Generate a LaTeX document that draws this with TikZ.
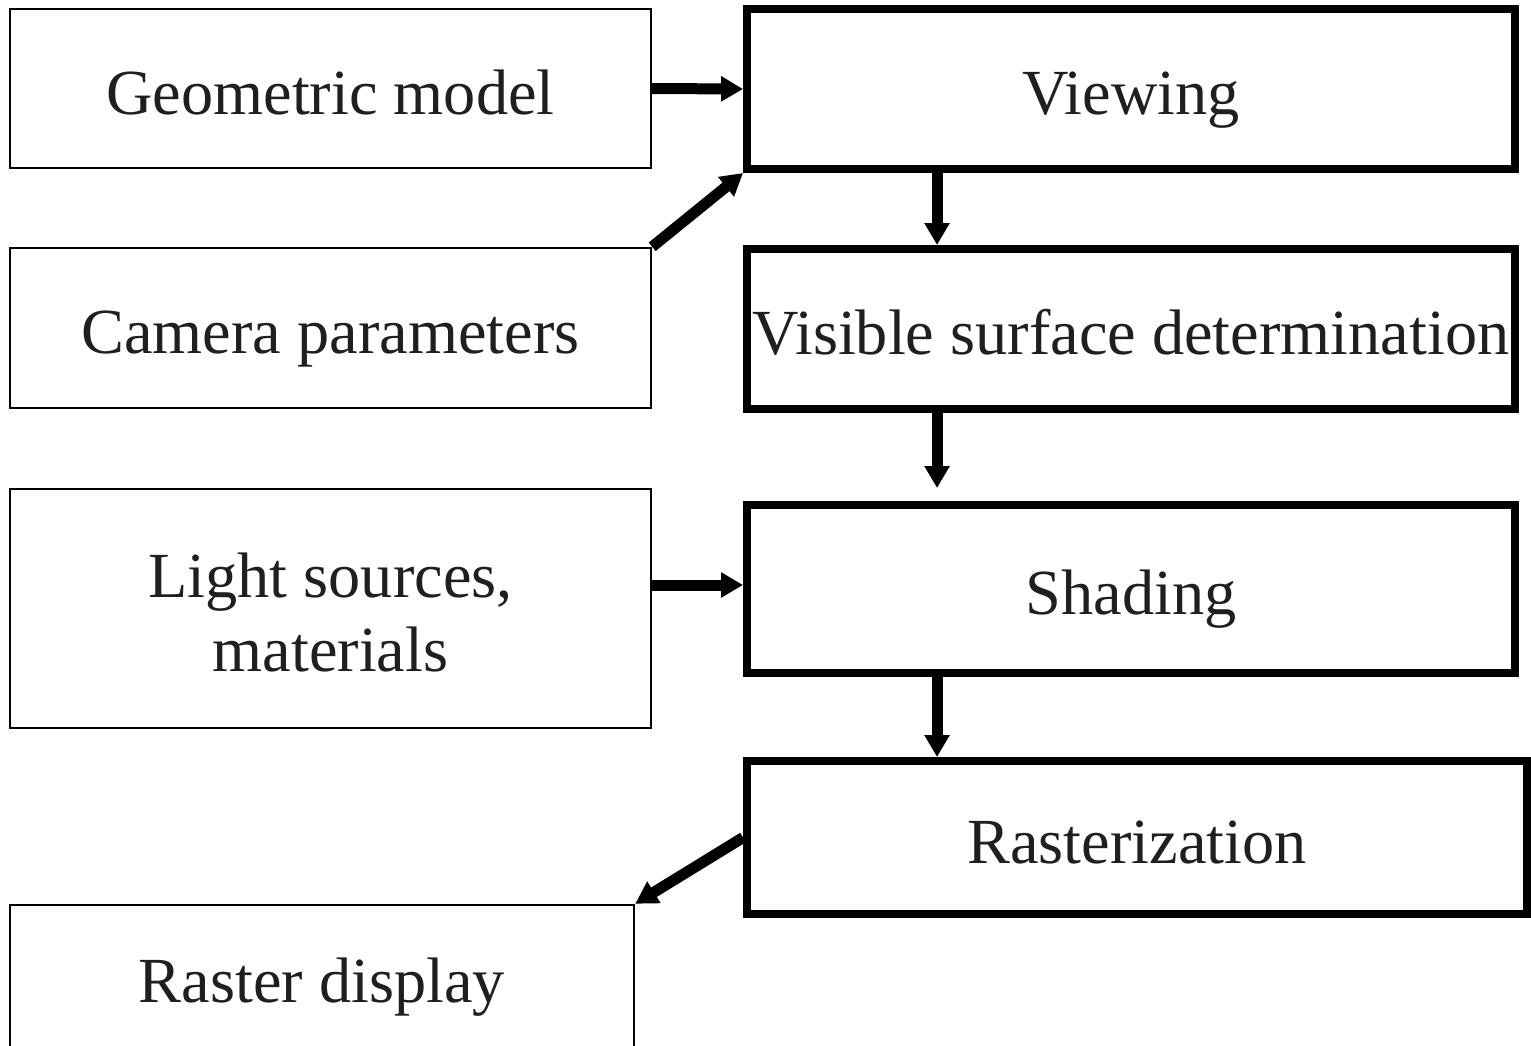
\documentclass[tikz,border=0pt]{standalone}
\usepackage{fontspec}
\setmainfont{Liberation Serif}
\usetikzlibrary{arrows.meta}
\usetikzlibrary{calc}
\tikzset{inbox/.style={draw, line width=0.05cm, inner sep=0pt, align=center,
  text=black!88, text height=29.5pt, text depth=0pt},
  stagebox/.style={draw, line width=0.16cm, inner sep=0pt, align=center,
  text=black!88, text height=29.5pt, text depth=0pt},
  flow/.style={line width=0.22cm, -{Triangle[width=0.48cm,length=0.44cm]}}}

\begin{document}
\begin{tikzpicture}[x=0.02cm, y=-0.02cm, font=\fontsize{36.6}{42}\selectfont]
      \useasboundingbox (0, 0) rectangle (1531, 1045);

      % inputs on the left
      \node [inbox, minimum width=12.82cm, minimum height=3.18cm] (geo) at (330.5, 88.5) {Geometric model};
      \node [inbox, minimum width=12.82cm, minimum height=3.2cm] (cam) at (330.5, 328) {Camera parameters};
      \node [inbox, minimum width=12.82cm, minimum height=4.78cm, text height=72pt] (light) at (330.5, 608.5) {Light sources,\\ materials};
      \node [inbox, minimum width=12.48cm, minimum height=2.88cm] (disp) at (322, 977) {Raster display};

      % pipeline stages on the right
      \node [stagebox, minimum width=15.36cm, minimum height=3.2cm] (view) at (1131, 89) {Viewing};
      \node [stagebox, minimum width=15.36cm, minimum height=3.2cm] (vis) at (1131, 329) {Visible surface determination};
      \node [stagebox, minimum width=15.36cm, minimum height=3.36cm] (shade) at (1131, 589) {Shading};
      \node [stagebox, minimum width=15.6cm, minimum height=3.06cm] (rast) at (1137, 837.5) {Rasterization};

      \coordinate (shadein) at ([yshift=0.08cm]shade.west);
      \coordinate (shadeout) at ($(shade.south west)!0.25!(shade.south east)$);

      \draw [flow] (geo.east) -- (view.west);
      \draw [flow] (cam.north east) -- (view.south west);
      \draw [flow] ($(view.south west)!0.25!(view.south east)$) -- ($(vis.north west)!0.25!(vis.north east)$);
      \draw [flow, shorten >=0.26cm] ($(vis.south west)!0.25!(vis.south east)$) -- ($(shade.north west)!0.25!(shade.north east)$);
      \draw [flow] (light.east |- shadein) -- (shadein);
      \draw [flow] (shadeout) -- (shadeout |- rast.north);
      \draw [flow] (rast.west) -- (disp.north east);
\end{tikzpicture}
\end{document}
